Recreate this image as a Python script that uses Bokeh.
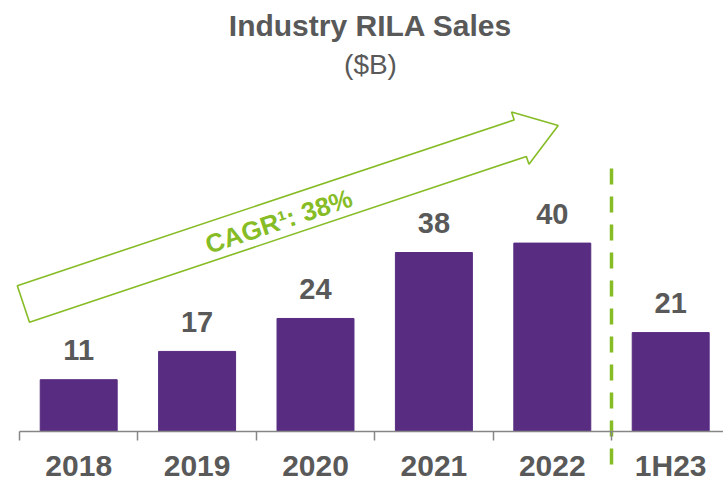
import math
from bokeh.plotting import figure
from bokeh.models import Range1d, FixedTicker
from bokeh.core.properties import value
from bokeh.embed import file_html
from bokeh.resources import INLINE

# ---- data ----
categories = ["2018", "2019", "2020", "2021", "2022", "1H23"]
sales = [11, 17, 24, 38, 40, 21]
title_text = "Industry RILA Sales"
subtitle_text = "($B)"
cagr_text = "CAGR\u00b9: 38%"

# ---- colours / fonts ----
PURPLE = "#582C81"
GREEN = "#86BC25"
GRAY_TXT = "#595959"
GRAY_AXIS = "#868686"
FONT = value("Liberation Sans")

# ---- layout constants (page pixels) ----
W, H = 723, 481
PAGE = 0
FRAME_LEFT = 14
AXIS_LEFT = 19
SLOT = 118.4
AXIS_Y = 431
PPU = 4.71


def dx(px):
    return -0.5 + (px - AXIS_LEFT) / SLOT


def dy(py):
    return (AXIS_Y - py) / PPU


p = figure(width=W, height=H, output_backend="svg", toolbar_location=None,
           x_range=Range1d(dx(FRAME_LEFT), dx(PAGE + W)),
           y_range=Range1d(dy(PAGE + H), dy(PAGE)),
           title_location=None, y_axis_location=None,
           min_border_left=FRAME_LEFT - PAGE, min_border_right=0,
           min_border_top=0, min_border_bottom=0)
p.outline_line_color = None
p.xgrid.visible = False
p.ygrid.visible = False
p.background_fill_color = "white"
p.border_fill_color = "white"

xs = list(range(len(categories)))

# arrow (decoration) built from geometry parameters in screen pixels
tail_c = (22.9, 303.4)
tip = (557.7, 125.0)
shaft_w, head_w, head_len = 38.5, 55.0, 40.0
vx, vy = tip[0] - tail_c[0], tip[1] - tail_c[1]
L = math.hypot(vx, vy)
ux, uy = vx / L, vy / L
nx, ny = uy, -ux  # perpendicular (upwards on screen)
neck = (tip[0] - ux * head_len, tip[1] - uy * head_len)


def off(pt, k):
    return (pt[0] + nx * k, pt[1] + ny * k)


poly = [off(tail_c, shaft_w / 2), off(neck, shaft_w / 2), off(neck, head_w / 2), tip,
        off(neck, -head_w / 2), off(neck, -shaft_w / 2), off(tail_c, -shaft_w / 2)]
p.patch([dx(a) for a, b in poly], [dy(b) for a, b in poly],
        fill_color="white", line_color=GREEN, line_width=1.6)
ang = math.atan2(-vy, vx)
p.text(x=[dx(278.3)], y=[dy(220.8)], text=[cagr_text], angle=ang,
       text_align="center", text_baseline="middle", text_color=GREEN,
       text_font=FONT, text_font_size="26px", text_font_style="bold")

# bars
p.vbar(x=xs, top=sales, width=0.65, color=PURPLE)
p.text(x=xs, y=[v + 29.6 / PPU for v in sales], text=[str(v) for v in sales],
       text_align="center", text_baseline="middle", text_color=GRAY_TXT,
       text_font=FONT, text_font_size="29px", text_font_style="bold")

# dashed separator between actual years and half-year
sep = len(categories) - 1.5
p.segment(x0=[sep], y0=[dy(168)], x1=[sep], y1=[dy(464)],
          line_color=GREEN, line_width=3.5, line_dash="16 12")

# titles
p.text(x=[dx(370)], y=[dy(25)], text=[title_text], text_align="center",
       text_baseline="middle", text_color=GRAY_TXT, text_font=FONT,
       text_font_size="30px", text_font_style="bold")
p.text(x=[dx(370)], y=[dy(64)], text=[subtitle_text], text_align="center",
       text_baseline="middle", text_color=GRAY_TXT, text_font=FONT,
       text_font_size="28px")

# x axis
ax = p.xaxis[0]
ax.fixed_location = 0
ax.bounds = (-0.5, dx(PAGE + W))
ax.ticker = FixedTicker(ticks=xs, minor_ticks=[i - 0.5 for i in xs])
ax.major_label_overrides = {i: c for i, c in zip(xs, categories)}
ax.axis_line_color = GRAY_AXIS
ax.axis_line_width = 1.5
ax.major_tick_out = 0
ax.major_tick_in = 0
ax.minor_tick_out = 9
ax.minor_tick_in = 0
ax.minor_tick_line_color = GRAY_AXIS
ax.minor_tick_line_width = 1.5
ax.major_label_standoff = 8
ax.major_label_text_font = "Liberation Sans"
ax.major_label_text_font_size = "30px"
ax.major_label_text_font_style = "bold"
ax.major_label_text_color = GRAY_TXT

open("out.html", "w").write(file_html(p, INLINE))
